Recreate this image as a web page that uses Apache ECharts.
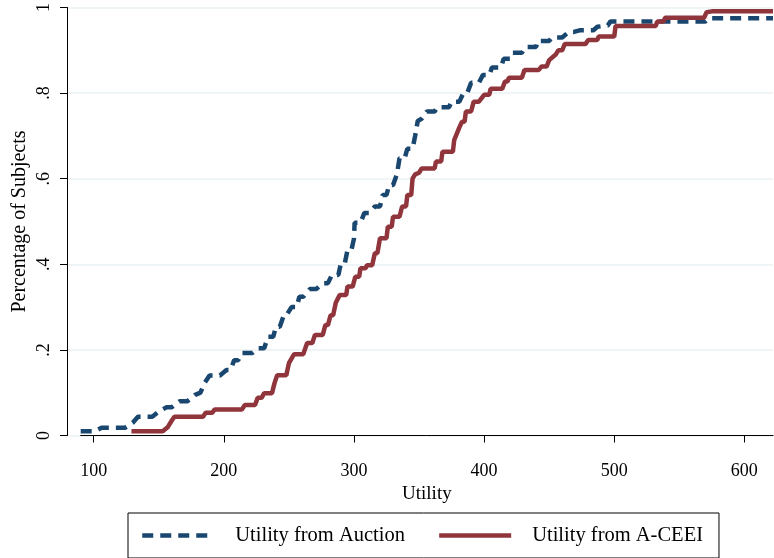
<!DOCTYPE html>
<html>
<head>
<meta charset="utf-8">
<script src="https://cdn.jsdelivr.net/npm/echarts@6/dist/echarts.min.js"></script>
<style>
  html, body { margin: 0; padding: 0; background: #ffffff; }
  #chart { width: 774px; height: 558px; }
</style>
</head>
<body>
<div id="chart"></div>
<script>
// Cumulative share of subjects by utility level, two allocation mechanisms.
const auctionUtility = [90, 101, 106, 124, 130, 134, 145, 150, 156, 160, 166, 172, 178, 182, 185, 189, 197, 202, 205, 208, 211, 214, 222, 226, 231, 234, 238, 240, 243, 246, 248, 252, 256, 258, 261, 266, 271, 276, 280, 283, 288, 290, 293, 295, 298, 300, 300.5, 305, 308, 312, 316, 320, 322, 325, 327, 330, 333, 335, 339, 341, 345, 347, 349, 352, 356, 362, 364, 373, 375, 381, 384, 387, 390, 396, 399, 404, 406, 413, 415, 420, 422, 429, 432, 440, 441, 450, 452, 460, 465, 469, 474, 484, 487, 495, 497, 570, 573, 622];
const auctionShare = [0.01, 0.01, 0.018, 0.018, 0.03, 0.044, 0.044, 0.056, 0.066, 0.066, 0.08, 0.08, 0.095, 0.10, 0.122, 0.14, 0.14, 0.153, 0.153, 0.176, 0.176, 0.193, 0.193, 0.204, 0.204, 0.231, 0.231, 0.254, 0.254, 0.28, 0.28, 0.30, 0.30, 0.324, 0.324, 0.342, 0.342, 0.356, 0.356, 0.375, 0.375, 0.403, 0.403, 0.433, 0.433, 0.46, 0.497, 0.497, 0.52, 0.52, 0.535, 0.535, 0.562, 0.562, 0.585, 0.585, 0.61, 0.648, 0.648, 0.67, 0.67, 0.70, 0.735, 0.74, 0.757, 0.757, 0.767, 0.767, 0.78, 0.78, 0.80, 0.80, 0.824, 0.824, 0.842, 0.842, 0.86, 0.86, 0.88, 0.88, 0.894, 0.894, 0.908, 0.908, 0.922, 0.922, 0.93, 0.93, 0.943, 0.943, 0.947, 0.947, 0.955, 0.958, 0.967, 0.967, 0.975, 0.975];

const ceeiUtility = [129, 153, 157, 160, 162, 184, 186, 191, 193, 214, 216, 224, 226, 229, 231, 237, 239, 241, 248, 250, 254, 261, 264, 268, 270, 276, 278, 280, 282, 284, 286, 289, 294, 295, 299, 301, 304, 305, 309, 310, 314, 316, 318, 320, 325, 326, 329, 330, 335, 337, 340, 341, 344, 345, 347, 350, 352, 362, 363, 367, 368, 376, 377, 381, 383, 385, 386, 390, 392, 396, 400, 404, 405, 414, 416, 418, 419, 429, 431, 442, 444, 448, 450, 455, 457, 460, 462, 478, 480, 487, 488, 500, 501, 532, 533, 538, 539, 569, 571, 575, 622];
const ceeiShare = [0.01, 0.01, 0.02, 0.035, 0.044, 0.044, 0.053, 0.053, 0.061, 0.061, 0.071, 0.071, 0.088, 0.088, 0.099, 0.099, 0.123, 0.141, 0.141, 0.169, 0.19, 0.19, 0.216, 0.216, 0.235, 0.235, 0.258, 0.258, 0.281, 0.281, 0.31, 0.328, 0.328, 0.348, 0.348, 0.371, 0.371, 0.391, 0.391, 0.398, 0.398, 0.426, 0.426, 0.461, 0.461, 0.488, 0.488, 0.511, 0.511, 0.535, 0.535, 0.562, 0.562, 0.60, 0.61, 0.614, 0.624, 0.624, 0.64, 0.64, 0.663, 0.663, 0.69, 0.72, 0.733, 0.733, 0.757, 0.757, 0.78, 0.78, 0.796, 0.796, 0.81, 0.81, 0.827, 0.827, 0.836, 0.836, 0.854, 0.854, 0.862, 0.862, 0.877, 0.89, 0.90, 0.90, 0.915, 0.915, 0.924, 0.924, 0.932, 0.932, 0.957, 0.957, 0.967, 0.967, 0.976, 0.976, 0.989, 0.991, 0.991];

const xTicks = [100, 200, 300, 400, 500, 600];
const yTicks = [0, 0.2, 0.4, 0.6, 0.8, 1];
const yTickLabels = ['0', '.2', '.4', '.6', '.8', '1'];
const seriesNames = ['Utility from Auction', 'Utility from A-CEEI'];

const pairs = (xs, ys) => xs.map((x, i) => [x, ys[i]]);

const FONT = 'Liberation Serif';
const NAVY = '#1a476f';
const MAROON = '#90353b';

const chart = echarts.init(document.getElementById('chart'), null, { renderer: 'canvas' });

chart.setOption({
  backgroundColor: '#ffffff',
  animation: false,
  textStyle: { fontFamily: FONT, color: '#000' },
  grid: [
    // y-axis frame (gridlines run to the axis)
    { left: 67, right: 1, top: 7.5, bottom: 122.5, outerBoundsMode: 'none', containLabel: false },
    // data area, x-axis spans the data range only
    { left: 80.7, right: 1, top: 7.5, bottom: 122.5, outerBoundsMode: 'none', containLabel: false }
  ],
  xAxis: [
    { gridIndex: 0, type: 'value', show: false, min: 0, max: 1 },
    {
      gridIndex: 1, type: 'value', min: 90, max: 622, offset: 13.5,
      name: 'Utility', nameLocation: 'middle', nameGap: 36, nameMoveOverlap: false,
      nameTextStyle: { fontFamily: FONT, fontSize: 19, color: '#000' },
      axisLine: { show: true, lineStyle: { color: '#000', width: 1 } },
      axisTick: { show: true, inside: false, length: 7, customValues: xTicks, lineStyle: { color: '#000', width: 1 } },
      axisLabel: { show: true, margin: 13, customValues: xTicks, fontFamily: FONT, fontSize: 18, color: '#000' },
      splitLine: { show: false }
    }
  ],
  yAxis: [
    {
      gridIndex: 0, type: 'value', min: 0, max: 1,
      name: 'Percentage of Subjects', nameLocation: 'middle', nameRotate: 90, nameGap: 37, nameMoveOverlap: false,
      nameTextStyle: { fontFamily: FONT, fontSize: 20, color: '#000' },
      axisLine: { show: true, lineStyle: { color: '#000', width: 1 } },
      axisTick: { show: true, inside: false, length: 7, customValues: yTicks, lineStyle: { color: '#000', width: 1 } },
      axisLabel: {
        show: true, rotate: 90, margin: 14, customValues: yTicks,
        fontFamily: FONT, fontSize: 18, color: '#000',
        formatter: v => yTickLabels[yTicks.findIndex(t => Math.abs(t - v) < 1e-6)]
      },
      splitLine: { show: true, lineStyle: { color: '#eaf2f3', width: 1.5 } }
    },
    { gridIndex: 1, type: 'value', min: 0, max: 1, show: false, splitLine: { show: false } }
  ],
  legend: {
    data: seriesNames,
    left: 128, top: 513,
    orient: 'horizontal',
    padding: [12, 16, 12, 12],
    itemGap: 32,
    itemWidth: 72, itemHeight: 14,
    borderColor: '#000', borderWidth: 1,
    backgroundColor: '#fff',
    itemStyle: { opacity: 0 },
    lineStyle: { width: 4.5 },
    textStyle: { fontFamily: FONT, fontSize: 20.5, color: '#000', padding: [0, 0, 0, 16] }
  },
  series: [
    {
      name: seriesNames[0], type: 'line', xAxisIndex: 1, yAxisIndex: 1,
      data: pairs(auctionUtility, auctionShare),
      showSymbol: false, symbol: 'none', smooth: false,
      lineStyle: { color: NAVY, width: 4.5, type: [11, 7] },
      itemStyle: { color: NAVY }
    },
    {
      name: seriesNames[1], type: 'line', xAxisIndex: 1, yAxisIndex: 1,
      data: pairs(ceeiUtility, ceeiShare),
      showSymbol: false, symbol: 'none', smooth: false,
      lineStyle: { color: MAROON, width: 4.5, type: 'solid' },
      itemStyle: { color: MAROON }
    }
  ]
});
</script>
</body>
</html>
